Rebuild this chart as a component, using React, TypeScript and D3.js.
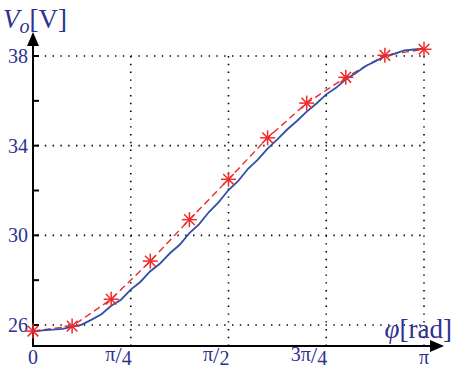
import React from 'react';
import * as d3 from 'd3';

// red measured points (every pi/10)
const measuredPhi = [0, 0.1, 0.2, 0.3, 0.4, 0.5, 0.6, 0.7, 0.8, 0.9, 1.0];
const measuredVo = [25.73, 25.95, 27.15, 28.85, 30.7, 32.5, 34.35, 35.9, 37.05, 38.03, 38.3];

// blue simulated curve (every pi/40)
const simPhi = [
  0, 0.025, 0.05, 0.075, 0.1, 0.125, 0.15, 0.175, 0.2, 0.225, 0.25, 0.275, 0.3, 0.325, 0.35,
  0.375, 0.4, 0.425, 0.45, 0.475, 0.5, 0.525, 0.55, 0.575, 0.6, 0.625, 0.65, 0.675, 0.7, 0.725,
  0.75, 0.775, 0.8, 0.825, 0.85, 0.875, 0.9, 0.925, 0.95, 0.975, 1.0,
];
const simVo = [
  25.73, 25.76, 25.79, 25.83, 25.92, 26.02, 26.24, 26.48, 26.86, 27.13, 27.58, 27.93, 28.4, 28.74,
  29.2, 29.58, 30.1, 30.5, 31.04, 31.48, 32.02, 32.43, 32.97, 33.38, 33.87, 34.28, 34.72, 35.1,
  35.52, 35.88, 36.29, 36.58, 36.96, 37.23, 37.54, 37.76, 37.99, 38.11, 38.25, 38.29, 38.33,
];

const yTicks = [26, 30, 34, 38];
const yMinor = [28, 32, 36];
const xTicks = [0, 0.25, 0.5, 0.75, 1.0];
const xTickLabels = [
  { pre: '0', den: '' },
  { pre: 'π', den: '4' },
  { pre: 'π', den: '2' },
  { pre: '3π', den: '4' },
  { pre: 'π', den: '' },
];

const W = 458;
const H = 372;
const labelColor = '#2e3192';
const serif = '"Liberation Serif", "DejaVu Serif", serif';

const App: React.FC = () => {
  const x = d3.scaleLinear().domain([0, 1]).range([33, 424]);
  const y = d3.scaleLinear().domain([26, 38]).range([325, 56]);
  const axisY = 346;
  const axisX = 33;

  const simLine = d3
    .line<number>()
    .x((_, i) => x(simPhi[i]))
    .y((d) => y(d))
    .curve(d3.curveLinear);
  const measLine = d3
    .line<number>()
    .x((_, i) => x(measuredPhi[i]))
    .y((d) => y(d));

  const star = (cx: number, cy: number, k: number) => {
    const r = 7.5;
    const angles = [0, 45, 90, 135];
    return (
      <g key={k} stroke="#ee2a2a" strokeWidth={1.5}>
        {angles.map((a) => {
          const rad = (a * Math.PI) / 180;
          const dx = Math.cos(rad) * r;
          const dy = Math.sin(rad) * r;
          return <line key={a} x1={cx - dx} y1={cy - dy} x2={cx + dx} y2={cy + dy} />;
        })}
      </g>
    );
  };

  return (
    <svg
      width={W}
      height={H}
      style={{ position: 'absolute', left: 0, top: 0, background: '#fff' }}
    >
      {/* grid */}
      <g stroke="#000" strokeWidth={1.6} strokeDasharray="1.4,6.4" strokeLinecap="butt">
        {yTicks.map((t) => (
          <line key={t} x1={axisX + 4} x2={x(1)} y1={y(t)} y2={y(t)} />
        ))}
        {xTicks.slice(1).map((t) => (
          <line key={t} x1={x(t)} x2={x(t)} y1={y(38)} y2={axisY} />
        ))}
      </g>

      {/* axes */}
      <g stroke="#000" strokeWidth={2}>
        <line x1={axisX} x2={axisX} y1={axisY} y2={44} />
        <line x1={axisX - 1} x2={432} y1={axisY} y2={axisY} />
        {yTicks.concat(yMinor).map((t) => (
          <line key={t} x1={axisX} x2={axisX + 6} y1={y(t)} y2={y(t)} />
        ))}
      </g>
      <path d={`M${axisX},32 L${axisX - 6},46 L${axisX + 6},46 Z`} fill="#000" />
      <path d={`M444,${axisY} L430,${axisY - 6} L430,${axisY + 6} Z`} fill="#000" />

      {/* y tick labels */}
      <g fill={labelColor} fontFamily={serif} fontSize={20} textAnchor="end">
        {yTicks.map((t) => (
          <text key={t} x={28} y={y(t) + 7}>
            {t}
          </text>
        ))}
      </g>

      {/* x tick labels */}
      <g fill={labelColor} fontFamily={serif} fontSize={20}>
        {xTicks.map((t, i) => {
          const l = xTickLabels[i];
          if (!l.den) {
            return (
              <text key={t} x={x(t)} y={364} textAnchor="middle">
                {l.pre}
              </text>
            );
          }
          return (
            <text key={t} x={x(t) + 1} y={361} textAnchor="end">
              {l.pre}
              <tspan dy={2} fontSize={23}>/</tspan>
              <tspan dy={2}>{l.den}</tspan>
            </text>
          );
        })}
      </g>

      {/* axis titles */}
      <text x={3} y={28} fill={labelColor} fontFamily={serif} fontSize={27}>
        <tspan fontStyle="italic">V</tspan>
        <tspan fontStyle="italic" fontSize={20} dy={5}>o</tspan>
        <tspan dy={-5}>[V]</tspan>
      </text>
      <text x={452} y={338} fill={labelColor} fontFamily={serif} fontSize={27} textAnchor="end">
        <tspan fontStyle="italic">φ</tspan>
        <tspan>[rad]</tspan>
      </text>

      {/* curves */}
      <path d={measLine(measuredVo) || ''} fill="none" stroke="#ee2a2a" strokeWidth={1.4} strokeDasharray="7,4" />
      <path d={simLine(simVo) || ''} fill="none" stroke="#3050a8" strokeWidth={1.8} />
      {measuredVo.map((v, i) => star(x(measuredPhi[i]), y(v), i))}
    </svg>
  );
};

export default App;
